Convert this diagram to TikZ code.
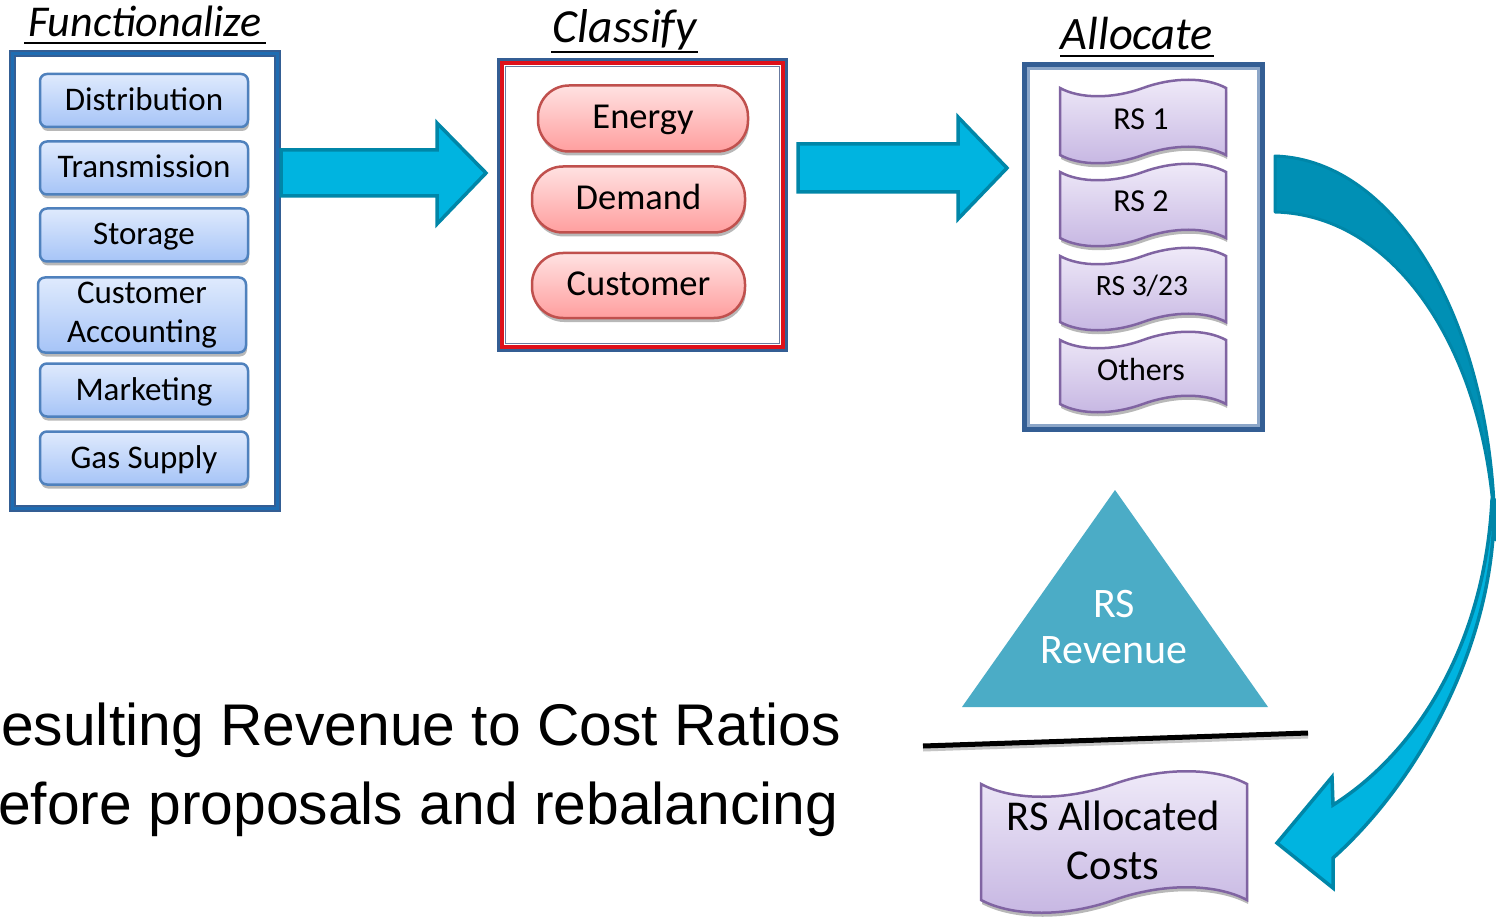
\documentclass[tikz,border=0pt]{standalone}
\usepackage{fontspec}
\setmainfont{Carlito}
\newfontfamily\arialf{Liberation Sans}
\usetikzlibrary{shadows}
\definecolor{btnTop}{RGB}{223,234,253}
\definecolor{btnBot}{RGB}{166,196,247}
\definecolor{btnLine}{RGB}{79,129,189}
\definecolor{pillTop}{RGB}{255,226,226}
\definecolor{pillBot}{RGB}{255,158,158}
\definecolor{pillLine}{RGB}{192,80,77}
\definecolor{waveTop}{RGB}{240,235,249}
\definecolor{waveBot}{RGB}{198,182,226}
\definecolor{waveLine}{RGB}{128,100,162}
\definecolor{arrFill}{RGB}{0,180,224}
\definecolor{arrLine}{RGB}{0,134,168}
\definecolor{arrDark}{RGB}{0,144,181}
\definecolor{triFill}{RGB}{75,172,198}
\definecolor{boxBlue}{RGB}{52,94,148}
\definecolor{boxBlue2}{RGB}{30,108,178}
\definecolor{boxRed}{RGB}{222,16,26}
\definecolor{boxGrey}{RGB}{104,122,160}
\definecolor{boxLight}{RGB}{140,166,200}
\newcommand{\wshape}[6]{%
 \draw[#1] (#2,#3) .. controls ({#2+0.12*#4},{#3+#6}) and ({#2+0.32*#4},{#3+#6}) .. ({#2+0.5*#4},#3)
   .. controls ({#2+0.68*#4},{#3-#6}) and ({#2+0.88*#4},{#3-#6}) .. ({#2+#4},#3)
   -- ({#2+#4},{#3+#5})
   .. controls ({#2+0.88*#4},{#3+#5-#6}) and ({#2+0.68*#4},{#3+#5-#6}) .. ({#2+0.5*#4},{#3+#5})
   .. controls ({#2+0.32*#4},{#3+#5+#6}) and ({#2+0.12*#4},{#3+#5+#6}) .. (#2,{#3+#5}) -- cycle;}
\begin{document}
\begin{tikzpicture}[x=1pt,y=-1pt,
  shad/.style={drop shadow={shadow xshift=1pt,shadow yshift=-4pt,opacity=.28,fill=black}},
  fbtn/.style={draw=btnLine, line width=2.5pt, rounded corners=7pt, top color=btnTop, bottom color=btnBot,
     minimum width=208pt, minimum height=53pt, inner sep=0pt, align=center,
     font=\fontsize{33}{39}\selectfont, shad},
  oneline/.style={text height=26pt, text depth=6pt},
  pill/.style={draw=pillLine, line width=2.5pt, rounded corners=31pt, top color=pillTop, bottom color=pillBot,
     minimum width=211pt, minimum height=66pt, inner sep=0pt, font=\fontsize{36.5}{40}\selectfont,
     text height=27pt, text depth=7pt, shad},
  wave/.style={draw=waveLine, line width=2.5pt, top color=waveTop, bottom color=waveBot, shad},
  wtext/.style={anchor=base, inner sep=0pt, font=\fontsize{32}{36}\selectfont},
  ttl/.style={anchor=base, inner sep=0pt, font=\fontsize{44}{50}\selectfont\itshape},
  uline/.style={line width=2.5pt},
  blockarrow/.style={fill=arrFill, draw=arrLine, line width=3.5pt, line join=miter},
  bigtext/.style={anchor=base west, inner sep=0pt, font=\arialf\fontsize{58.8}{79}\selectfont}
]
\useasboundingbox (0,0) rectangle (1496,917);
\fill[white] (0,0) rectangle (1496,917);

% ---------- Functionalize ----------
\node[ttl] (t1) at (145,37) {Functionalize};
\draw[uline] (24,43) -- (266,43);
\node[draw=boxBlue, line width=7pt, minimum width=265pt, minimum height=455pt, inner sep=0pt] (func) at (145,281) {};
\draw[boxBlue2, line width=2.5pt] (12.5,53.5) rectangle (277.5,508.5);
\node[fbtn,oneline] (dist) at (144,100.5) {Distribution};
\node[fbtn,oneline] (trans) at (144,168) {Transmission};
\node[fbtn,oneline] (stor) at (144,235) {Storage};
\node[fbtn, minimum height=75pt] (custacc) at (142,315) {Customer\\Accounting};
\node[fbtn,oneline] (mark) at (144,390) {Marketing};
\node[fbtn,oneline] (gas) at (144,458) {Gas Supply};

% ---------- Classify ----------
\node[ttl, font=\fontsize{47.5}{52}\selectfont\itshape] (t2) at (625,43) {Classify};
\draw[uline] (551,52) -- (698,52);
\node[draw=boxBlue, line width=3.5pt, minimum width=287.5pt, minimum height=290.5pt, inner sep=0pt] (cls) at (642.5,205) {};
\draw[boxRed, line width=3.5pt] (502,63) rectangle (783,347);
\draw[boxGrey, line width=1.5pt] (505.5,66.5) rectangle (779.5,343.5);
\node[pill, minimum width=210pt] (energy) at (643,118.5) {Energy};
\node[pill, minimum width=213pt] (demand) at (638.5,199.5) {Demand};
\node[pill, minimum width=213pt, minimum height=65pt] (customer) at (638.5,285.5) {Customer};

% ---------- Allocate ----------
\node[ttl, font=\fontsize{46.5}{52}\selectfont\itshape] (t3) at (1137,50) {Allocate};
\draw[uline] (1060,56) -- (1214,56);
\node[draw=boxBlue, line width=5pt, minimum width=238pt, minimum height=365pt, inner sep=0pt] (alloc) at (1143.5,247) {};
\draw[boxLight, line width=3pt] (1028.5,68.5) rectangle (1258.5,425.5);
\wshape{wave}{1060}{88}{166}{67}{11}
\node[wtext] (rs1) at (1141,130) {RS 1};
\wshape{wave}{1060}{172}{166}{66}{11}
\node[wtext] (rs2) at (1141,212) {RS 2};
\wshape{wave}{1060}{256}{166}{66}{11}
\node[wtext, font=\fontsize{29.5}{34}\selectfont] (rs3) at (1142,295) {RS 3/23};
\wshape{wave}{1060}{340}{166}{64}{11}
\node[wtext] (others) at (1141,380) {Others};

% ---------- straight block arrows ----------
\draw[blockarrow] (281,150) -- (437,150) -- (437,123) -- (486,173) -- (437,224) -- (437,196) -- (281,196) -- cycle;
\draw[blockarrow] (798,144) -- (958,144) -- (958,117) -- (1007,168) -- (958,219) -- (958,192) -- (798,192) -- cycle;

% ---------- curved arrow ----------
\draw[fill=arrDark, draw=arrLine, line width=3pt, line join=round]
  (1275,156) .. controls (1400,160) and (1495,330) .. (1495,540)
  .. controls (1490,360) and (1400,215) .. (1275,212) -- cycle;
\draw[fill=arrFill, draw=arrLine, line width=3.5pt, line join=miter]
  (1494,500) .. controls (1497,640) and (1420,780) .. (1333,858)
  -- (1333,888) -- (1277,843) -- (1332,777) -- (1333,805)
  .. controls (1420,750) and (1485,640) .. (1492,500) -- cycle;

% ---------- revenue / cost ----------
\fill[triFill] (1115,490) -- (1268,707) -- (962,707) -- cycle;
\node[inner sep=0pt, align=center, text=white, font=\fontsize{42}{46}\selectfont] (rev) at (1114,627) {RS\\Revenue};
\coordinate (l1) at (923,746);
\coordinate (l2) at (1308,733);
\draw[black!45, line width=5pt, opacity=.5] ([yshift=-3pt]l1) -- ([yshift=-3pt]l2);
\draw[line width=5pt] (l1) -- (l2);
\wshape{wave}{981}{784}{266}{116}{17}
\node[inner sep=0pt, align=center, font=\fontsize{42.5}{49}\selectfont] (costs) at (1113,840) {RS Allocated\\Costs};

% ---------- ratio text ----------
\node[bigtext] (ratio1) at (1,745) {esulting Revenue to Cost Ratios};
\node[bigtext] (ratio2) at (-2,824) {efore proposals and rebalancing};
\end{tikzpicture}
\end{document}
